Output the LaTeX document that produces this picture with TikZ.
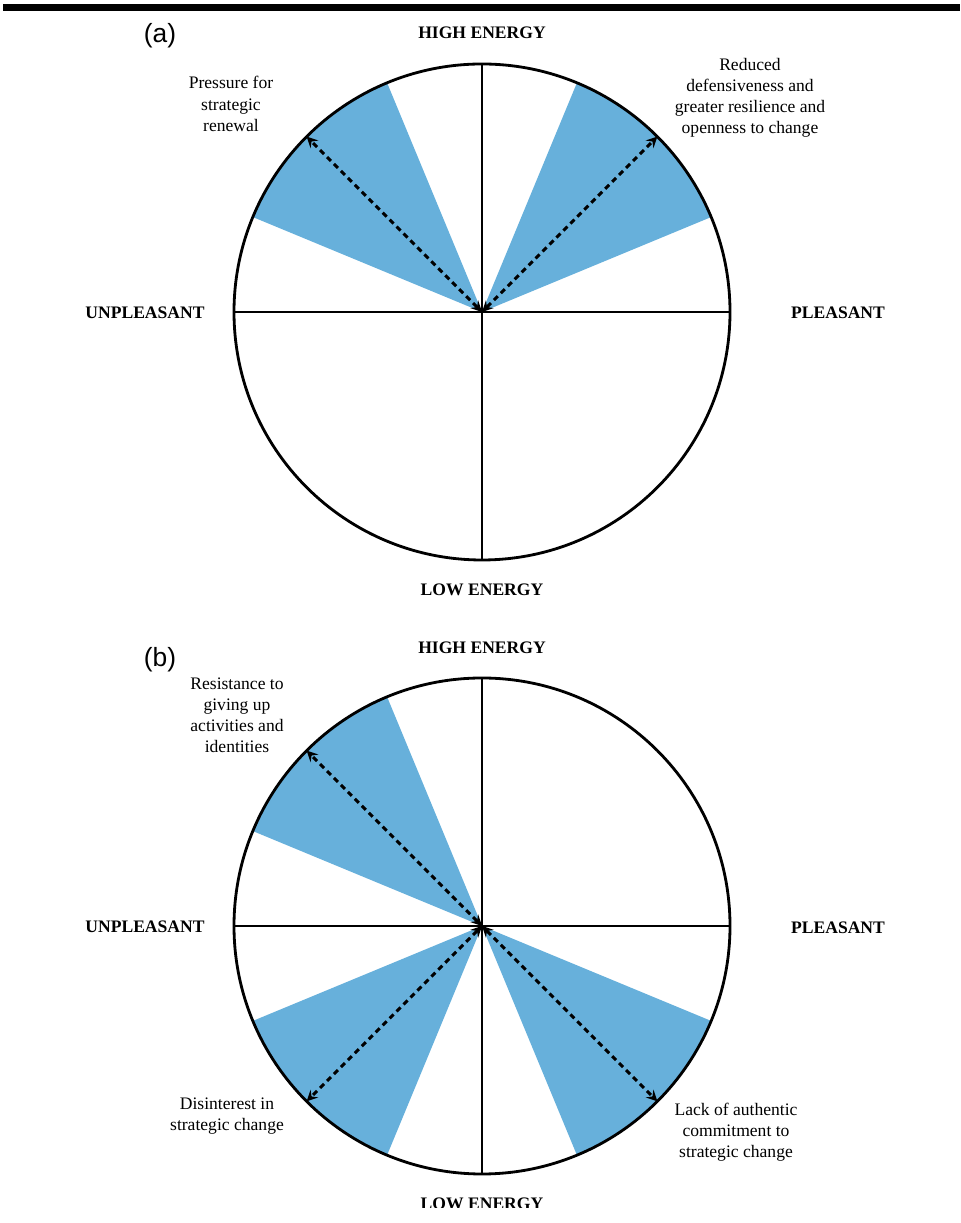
\documentclass[tikz,border=0pt]{standalone}
\usepackage{fontspec}
\setmainfont{Liberation Serif}
\newfontfamily\panelfont{Liberation Sans}
\usetikzlibrary{positioning}
\definecolor{wedgeblue}{RGB}{103,176,219}
\tikzset{
  wheel rim/.style={line width=1.6pt,draw=black},
  wheel axis/.style={line width=1.6pt,draw=black},
  wheel wedge/.style={fill=wedgeblue,draw=none},
  wheel arrow/.style={<->,>=stealth,line width=1.7pt,dash pattern=on 3.2pt off 2.4pt},
  pole label/.style={font=\bfseries},
  effect note/.style={align=center},
  panel tag/.style={font=\panelfont\fontsize{15}{17}\selectfont}
}

\begin{document}
\begin{tikzpicture}[x=0.02cm,y=0.02cm]
  \useasboundingbox (0,0) rectangle (960,1223);
  \draw[line width=4pt] (3,1215.5)--(960,1215.5);

  % (a)
  \coordinate (ca) at (482,911);
  \foreach \m in {45,135}{
    \fill[wheel wedge] (ca) -- ++(\m-22.5:248) arc (\m-22.5:\m+22.5:248) -- cycle;
  }
  \coordinate (ca n) at ([shift={(90:248)}]ca);
  \coordinate (ca s) at ([shift={(270:248)}]ca);
  \coordinate (ca w) at ([shift={(180:248)}]ca);
  \coordinate (ca e) at ([shift={(0:248)}]ca);
  \coordinate (ca ne) at ([shift={(45:248)}]ca);
  \coordinate (ca nw) at ([shift={(135:248)}]ca);
  \draw[wheel axis] (ca w) -- (ca e);
  \draw[wheel axis] (ca n) -- (ca s);
  \draw[wheel rim] (ca) circle (248);
  \draw[wheel arrow] (ca) -- (ca nw);
  \draw[wheel arrow] (ca) -- (ca ne);

  \node[panel tag] (taga) at (160,1187) {(a)};
  \node[pole label] (higha) at (482,1190) {HIGH ENERGY};
  \node[pole label] (lowa) at (482,633) {LOW ENERGY};
  \node[pole label] (unpla) at (145,910) {UNPLEASANT};
  \node[pole label] (pla) at (838,910) {PLEASANT};
  \node[effect note] (renewal) at (231,1119) {Pressure for\\strategic\\renewal};
  \node[effect note] (openness) at (750,1125) {Reduced\\defensiveness and\\greater resilience and\\openness to change};

  % (b)
  \coordinate (cb) at (482,297);
  \foreach \m in {135,225,315}{
    \fill[wheel wedge] (cb) -- ++(\m-22.5:248) arc (\m-22.5:\m+22.5:248) -- cycle;
  }
  \coordinate (cb n) at ([shift={(90:248)}]cb);
  \coordinate (cb s) at ([shift={(270:248)}]cb);
  \coordinate (cb w) at ([shift={(180:248)}]cb);
  \coordinate (cb e) at ([shift={(0:248)}]cb);
  \coordinate (cb nw) at ([shift={(135:248)}]cb);
  \coordinate (cb sw) at ([shift={(225:248)}]cb);
  \coordinate (cb se) at ([shift={(315:248)}]cb);
  \draw[wheel axis] (cb w) -- (cb e);
  \draw[wheel axis] (cb n) -- (cb s);
  \draw[wheel rim] (cb) circle (248);
  \draw[wheel arrow] (cb) -- (cb nw);
  \draw[wheel arrow] (cb) -- (cb sw);
  \draw[wheel arrow] (cb) -- (cb se);

  \node[panel tag] (tagb) at (160,563) {(b)};
  \node[pole label] (highb) at (482,575) {HIGH ENERGY};
  \begin{scope}
    \clip (0,15) rectangle (960,40);
    \node[pole label] (lowb) at (482,19) {LOW ENERGY};
  \end{scope}
  \node[pole label] (unplb) at (145,296) {UNPLEASANT};
  \node[pole label] (plb) at (838,295) {PLEASANT};
  \node[effect note] (resistance) at (237,508) {Resistance to\\giving up\\activities and\\identities};
  \node[effect note] (disinterest) at (227,107) {Disinterest in\\strategic change};
  \node[effect note] (commitment) at (736,91) {Lack of authentic\\commitment to\\strategic change};
\end{tikzpicture}
\end{document}
